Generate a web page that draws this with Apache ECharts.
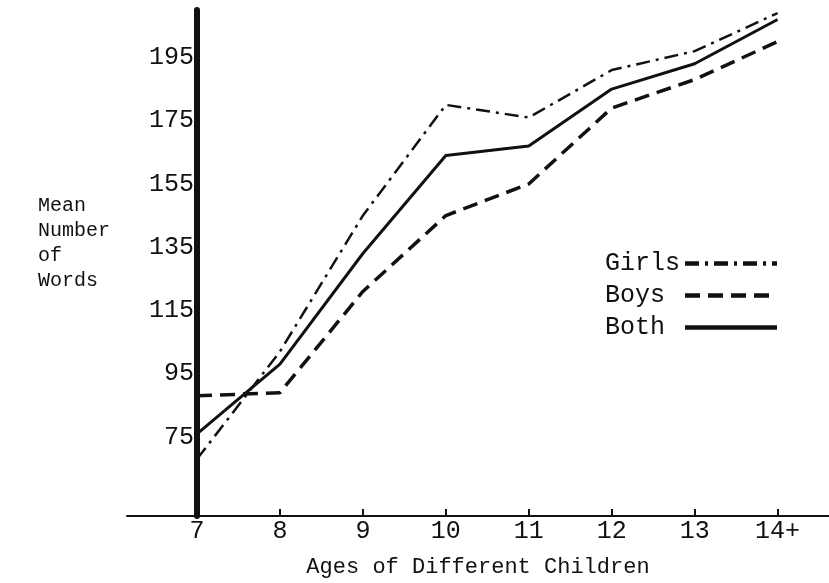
<!DOCTYPE html>
<html>
<head>
<meta charset="utf-8">
<script src="https://cdn.jsdelivr.net/npm/echarts@6/dist/echarts.min.js"></script>
<style>
html,body{margin:0;padding:0;background:#fff;}
#chart{width:829px;height:583px;}
</style>
</head>
<body>
<div id="chart"></div>
<script>
const ages = ['7', '8', '9', '10', '11', '12', '13', '14+'];
const girls = [68, 102, 145, 180, 176, 191, 197, 209];
const boys = [88, 89, 121, 145, 155, 179, 188, 200];
const both = [76, 98, 133, 164, 167, 185, 193, 207];
const yTickLabels = [75, 95, 115, 135, 155, 175, 195];

const FONT = '"Liberation Mono", monospace';
const INK = '#111';

function pts(arr) { return arr.map((v, i) => [i, v]); }

const chart = echarts.init(document.getElementById('chart'), null, { renderer: 'canvas' });
chart.setOption({
  animation: false,
  backgroundColor: '#fff',
  color: [INK, INK, INK],
  title: {
    text: 'Mean\nNumber\nof\nWords',
    left: 33,
    top: 188,
    textStyle: { fontFamily: FONT, fontSize: 20, fontWeight: 'normal', color: INK, lineHeight: 25 }
  },
  legend: {
    data: ['Girls', 'Boys', 'Both'],
    orient: 'vertical',
    left: 600,
    top: 246,
    align: 'right',
    itemWidth: 92,
    itemHeight: 8,
    itemGap: 7,
    itemStyle: { opacity: 0 },
    lineStyle: { width: 4.5 },
    formatter: name => name.padEnd(5, '\u00a0'),
    textStyle: { fontFamily: FONT, fontSize: 25, color: INK }
  },
  grid: { left: 127, right: 0, top: 10, bottom: 63, containLabel: false },
  xAxis: {
    type: 'value',
    min: -0.844,
    max: 7.62,
    axisLine: { onZero: false, lineStyle: { color: INK, width: 2 } },
    splitLine: { show: false },
    axisTick: { show: true, inside: true, length: 7, customValues: [1, 2, 3, 4, 5, 6, 7], lineStyle: { color: INK, width: 2 } },
    axisLabel: {
      customValues: [0, 1, 2, 3, 4, 5, 6, 7],
      formatter: v => ages[Math.round(v)] || '',
      fontFamily: FONT, fontSize: 25, color: INK, margin: 3
    },
    name: 'Ages of Different Children',
    nameLocation: 'middle',
    nameGap: 40,
    nameTextStyle: { fontFamily: FONT, fontSize: 22, color: INK }
  },
  yAxis: {
    type: 'value',
    min: 50,
    max: 210,
    axisLine: { show: true, onZero: true, lineStyle: { color: INK, width: 6 } },
    splitLine: { show: false },
    axisTick: { show: false },
    axisLabel: {
      customValues: yTickLabels,
      fontFamily: FONT, fontSize: 25, color: INK, margin: -67
    }
  },
  series: [
    {
      name: 'Girls', type: 'line', data: pts(girls), symbol: 'none',
      itemStyle: { color: INK },
      lineStyle: { color: INK, width: 2.5, type: [14, 6, 3, 6] }
    },
    {
      name: 'Boys', type: 'line', data: pts(boys), symbol: 'none',
      itemStyle: { color: INK },
      lineStyle: { color: INK, width: 3.5, type: [15, 8] }
    },
    {
      name: 'Both', type: 'line', data: pts(both), symbol: 'none',
      itemStyle: { color: INK },
      lineStyle: { color: INK, width: 3 }
    }
  ]
});
</script>
</body>
</html>
